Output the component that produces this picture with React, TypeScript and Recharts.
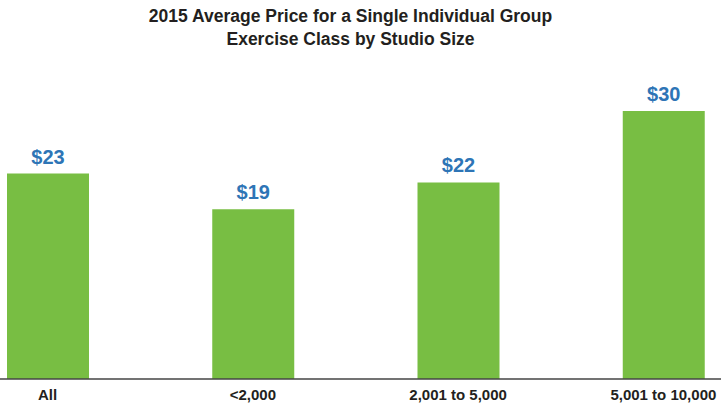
import { BarChart, Bar, XAxis, YAxis, LabelList } from 'recharts';

const categories = ['All', '<2,000', '2,001 to 5,000', '5,001 to 10,000'];
const prices = [23, 19, 22, 30];

const data = categories.map((name, i) => ({ name, price: prices[i] }));

export default function App() {
  return (
    <div
      style={{
        position: 'absolute',
        left: 0,
        top: 0,
        width: 721,
        height: 407,
        overflow: 'hidden',
        background: '#fff',
        fontFamily: '"Liberation Sans", Arial, sans-serif',
      }}
    >
      <div
        style={{
          position: 'absolute',
          left: 0,
          top: 5,
          width: 701,
          textAlign: 'center',
          fontSize: 17.5,
          fontWeight: 'bold',
          lineHeight: '23px',
          color: '#231f20',
        }}
      >
        2015 Average Price for a Single Individual Group
        <br />
        Exercise Class by Studio Size
      </div>
      <div style={{ position: 'absolute', left: -55, top: 0 }}>
        <BarChart
          width={821}
          height={407}
          data={data}
          margin={{ top: 111, right: 0, bottom: 0, left: 0 }}
        >
          <XAxis
            dataKey="name"
            height={28}
            tickLine={false}
            tickSize={0}
            tickMargin={10}
            axisLine={{ stroke: '#444', strokeWidth: 1.5 }}
            tick={{ fill: '#231f20', fontSize: 15, fontWeight: 'bold' }}
            interval={0}
          />
          <YAxis hide domain={[0, 30]} />
          <Bar dataKey="price" fill="#78be43" barSize={82} isAnimationActive={false}>
            <LabelList
              dataKey="price"
              position="top"
              offset={10}
              formatter={(v: number) => `$${v}`}
              fill="#2e75b6"
              fontSize={20}
              fontWeight="bold"
            />
          </Bar>
        </BarChart>
      </div>
    </div>
  );
}
